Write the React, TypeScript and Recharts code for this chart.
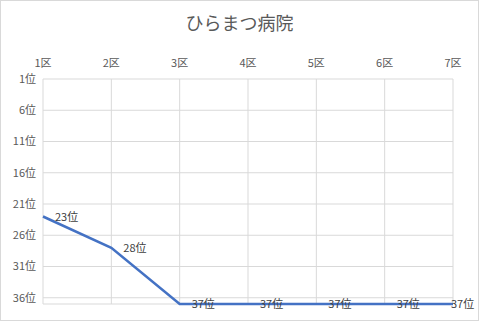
import { LineChart, Line, XAxis, YAxis, CartesianGrid, LabelList } from 'recharts';

const districts = ['1区', '2区', '3区', '4区', '5区', '6区', '7区'];
const ranks = [23, 28, 37, 37, 37, 37, 37];
const rankTicks = [1, 6, 11, 16, 21, 26, 31, 36];

const data = districts.map((name, i) => ({ name, rank: ranks[i] }));

const font = '"Noto Sans CJK JP", "Noto Sans", sans-serif';
const chartW = 479;

// label to the right of the point, pushed back in when it would leave the chart
const RankLabel = (props: any) => {
  const { x, y, value } = props;
  const textW = 23;
  let lx = x + 12;
  if (lx + textW > chartW - 5) lx = chartW - 5 - textW;
  return (
    <text
      x={lx}
      y={y}
      dy={4}
      fill="#404040"
      fontSize={11}
      fontFamily={font}
    >
      {`${value}位`}
    </text>
  );
};

export default function App() {
  return (
    <div
      style={{
        position: 'absolute',
        left: 0,
        top: 0,
        width: 479,
        height: 321,
        boxSizing: 'border-box',
        border: '1px solid #d9d9d9',
        background: '#fff',
        fontFamily: font,
      }}
    >
      <div
        style={{
          position: 'absolute',
          top: 8,
          width: '100%',
          textAlign: 'center',
          fontSize: 18,
          color: '#595959',
        }}
      >
        ひらまつ病院
      </div>
      <div style={{ position: 'absolute', left: -1, top: -1 }}>
        <LineChart
          width={chartW}
          height={321}
          data={data}
          margin={{ top: 45, right: 26, left: 0, bottom: 17 }}
        >
          <CartesianGrid stroke="#d9d9d9" />
          <XAxis
            dataKey="name"
            orientation="top"
            height={34}
            axisLine={false}
            tickLine={false}
            tickSize={0}
            tickMargin={12}
            tick={{ fill: '#595959', fontSize: 11, fontFamily: font }}
            interval={0}
          />
          <YAxis
            reversed
            type="number"
            domain={[1, 37]}
            ticks={rankTicks}
            width={43}
            axisLine={false}
            tickLine={false}
            tickSize={0}
            tickMargin={7}
            tickFormatter={(v) => `${v}位`}
            tick={{ fill: '#595959', fontSize: 11, fontFamily: font }}
            interval={0}
          />
          <Line
            type="linear"
            dataKey="rank"
            stroke="#4472c4"
            strokeWidth={2.5}
            dot={false}
            isAnimationActive={false}
          >
            <LabelList dataKey="rank" content={RankLabel} />
          </Line>
        </LineChart>
      </div>
    </div>
  );
}
